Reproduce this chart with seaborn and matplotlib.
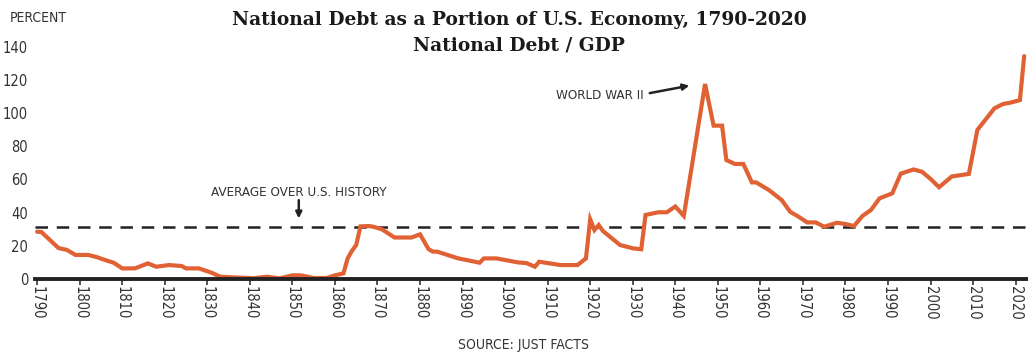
import matplotlib
matplotlib.use("Agg")
import matplotlib.pyplot as plt
import seaborn as sns
import pandas as pd

# Federal debt held as a share of GDP, percent
years = [1790, 1791, 1795, 1797, 1799, 1802, 1804, 1806, 1808, 1810,
         1813, 1816, 1818, 1821, 1824, 1825, 1828, 1831, 1833, 1836,
         1841, 1844, 1847, 1850, 1852, 1855, 1858, 1860, 1862, 1863,
         1864, 1865, 1866, 1868, 1869, 1871, 1874, 1878, 1880, 1882,
         1883, 1884, 1889, 1891, 1894, 1895, 1898, 1903, 1905, 1907,
         1908, 1913, 1917, 1919, 1920, 1921, 1922, 1923, 1927, 1930,
         1932, 1933, 1936, 1938, 1940, 1942, 1947, 1949, 1951, 1952,
         1954, 1956, 1958, 1959, 1962, 1965, 1967, 1969, 1971, 1973,
         1975, 1978, 1980, 1982, 1984, 1986, 1988, 1991, 1993, 1996,
         1998, 2000, 2002, 2005, 2009, 2011, 2015, 2017, 2019, 2021,
         2022]
debt_pct = [28.5, 28.3, 18.7, 17.5, 14.5, 14.5, 13.2, 11.4, 9.8, 6.4,
            6.4, 9.4, 7.4, 8.4, 7.8, 6.4, 6.4, 3.8, 1.4, 1.0,
            0.5, 1.4, 0.4, 2.2, 2.2, 0.6, 0.6, 2.2, 3.4, 12.5,
            17.0, 20.5, 31.7, 31.9, 31.5, 30.0, 25.0, 25.0, 26.9, 18.0,
            16.5, 16.5, 12.4, 11.4, 9.8, 12.4, 12.4, 10.0, 9.6, 7.4,
            10.4, 8.4, 8.4, 12.4, 35.9, 29.5, 32.5, 28.9, 20.5, 18.5,
            17.9, 38.6, 40.2, 40.2, 43.7, 38.0, 117.5, 92.4, 92.4, 71.7,
            69.3, 69.3, 58.2, 58.2, 53.6, 47.6, 40.5, 37.5, 34.1, 34.1,
            31.5, 33.9, 33.1, 31.9, 38.0, 41.6, 48.6, 51.6, 63.5, 66.0,
            64.6, 60.3, 55.3, 61.8, 63.3, 89.8, 102.8, 105.4, 106.4, 107.8,
            134.3]
historical_avg = 31.3
y_ticks = [0, 20, 40, 60, 80, 100, 120, 140]
x_ticks = list(range(1790, 2021, 10))

df = pd.DataFrame({"year": years, "debt": debt_pct})

sns.set_theme(style="white")
plt.rcParams["font.family"] = ["DejaVu Sans"]
plt.rcParams["font.stretch"] = "condensed"

text_col = "#333333"
line_col = "#E06234"

fig = plt.figure(figsize=(10.28, 3.53), dpi=100)
ax = fig.add_axes([35 / 1028, 1 - 279 / 353, 993 / 1028, 239 / 353])

ax.axhline(historical_avg, color="#222222", lw=1.8, ls=(0, (5, 3.5)), zorder=1)
sns.lineplot(data=df, x="year", y="debt", ax=ax, color=line_col, lw=3,
             zorder=3, solid_joinstyle="miter")

ax.set_xlim(1789.5, 2022.9)
ax.set_ylim(0, 144)
ax.set_xticks(x_ticks)
ax.set_xticklabels([str(t) for t in x_ticks], rotation=-90)
ax.set_yticks(y_ticks)
ax.set_yticklabels([str(t) for t in y_ticks])
ax.tick_params(axis="x", length=4, width=1.2, color=text_col, pad=1,
               labelsize=10.5, labelcolor=text_col, bottom=True)
ax.tick_params(axis="y", length=0, pad=5, labelsize=10.5, labelcolor=text_col)
ax.set_xlabel("")
ax.set_ylabel("")
for s in ["top", "right", "left"]:
    ax.spines[s].set_visible(False)
ax.spines["bottom"].set_color("#222222")
ax.spines["bottom"].set_linewidth(2.8)
ax.spines["bottom"].set_zorder(4)
ax.grid(False)

fig.text(10 / 1028, 1 - 18 / 353, "PERCENT", fontsize=10, color=text_col,
         va="center", ha="left")
fig.text(519 / 1028, 1 - 20 / 353, "National Debt as a Portion of U.S. Economy, 1790-2020",
         fontsize=13.4, fontweight="bold", family="DejaVu Serif", stretch="normal",
         color="#1a1a1a", ha="center", va="center")
fig.text(519 / 1028, 1 - 45 / 353, "National Debt / GDP",
         fontsize=13.4, fontweight="bold", family="DejaVu Serif", stretch="normal",
         color="#1a1a1a", ha="center", va="center")
fig.text(524 / 1028, 1 - 345 / 353, "SOURCE: JUST FACTS", fontsize=10,
         color=text_col, ha="center", va="center")

ax.text(1851.5, 52, "AVERAGE OVER U.S. HISTORY", ha="center", va="center",
        fontsize=9.6, color=text_col)
ax.annotate("", xy=(1851.5, 36.5), xytext=(1851.5, 47.5),
            arrowprops=dict(arrowstyle="-|>", color="#222222", lw=1.8,
                            mutation_scale=9, shrinkA=0, shrinkB=0))
ax.text(1932.6, 110.5, "WORLD WAR II", ha="right", va="center",
        fontsize=9.6, color=text_col)
ax.annotate("", xy=(1943.3, 116.5), xytext=(1934.0, 112.0),
            arrowprops=dict(arrowstyle="-|>", color="#222222", lw=1.8,
                            mutation_scale=9, shrinkA=0, shrinkB=0))

fig.savefig("out.png", dpi=100)
